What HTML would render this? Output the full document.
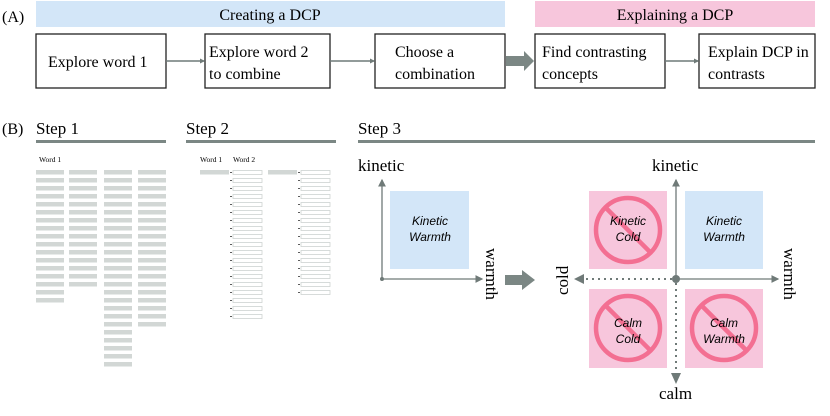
<!DOCTYPE html>
<html><head><meta charset="utf-8"><style>
body{margin:0;background:#fff;}
svg text{font-family:"Liberation Serif",serif;}
svg text.s{font-family:"Liberation Sans",sans-serif;font-style:italic;font-size:12px;}
</style></head><body>
<svg width="830" height="411" viewBox="0 0 830 411" xmlns="http://www.w3.org/2000/svg">
<defs>
<marker id="ah" markerWidth="6" markerHeight="6" refX="5" refY="3" orient="auto"><path d="M0,0 L6,3 L0,6 z" fill="#6f7a78"/></marker>
<marker id="ah2" markerWidth="5" markerHeight="5" refX="4" refY="2.5" orient="auto" markerUnits="userSpaceOnUse"><path d="M0,0 L5,2.5 L0,5 z" fill="#6f7a78"/></marker>
</defs>
<text x="2" y="22" font-size="16">(A)</text>
<rect x="36" y="1" width="469" height="26" fill="#d3e6f8"/>
<text x="270" y="20" font-size="16" text-anchor="middle">Creating a DCP</text>
<rect x="535" y="1" width="280" height="26" fill="#f7c6dc"/>
<text x="675" y="20" font-size="16" text-anchor="middle">Explaining a DCP</text>
<g fill="#fff" stroke="#222" stroke-width="1.3">
<rect x="36" y="34" width="130" height="54"/>
<rect x="205" y="34" width="125" height="54"/>
<rect x="375" y="34" width="130" height="54"/>
<rect x="535" y="34" width="130" height="54"/>
<rect x="699" y="34" width="116" height="54"/>
</g>
<g font-size="16">
<text x="48" y="67">Explore word 1</text>
<text x="209" y="57">Explore word 2</text><text x="209" y="79">to combine</text>
<text x="395" y="57">Choose a</text><text x="395" y="79">combination</text>
<text x="542" y="57">Find contrasting</text><text x="542" y="79">concepts</text>
<text x="708" y="57">Explain DCP in</text><text x="708" y="79">contrasts</text>
</g>
<g stroke="#6f7a78" stroke-width="1.5" marker-end="url(#ah2)">
<line x1="166" y1="61" x2="204" y2="61"/>
<line x1="330" y1="61" x2="374" y2="61"/>
<line x1="665" y1="61" x2="698" y2="61"/>
</g>
<path d="M506,56 L524,56 L524,51 L534,61 L524,71 L524,66 L506,66 z" fill="#7b8784"/>

<text x="2" y="134" font-size="16">(B)</text>
<text x="36" y="134" font-size="17">Step 1</text>
<text x="186" y="134" font-size="17">Step 2</text>
<text x="358" y="134" font-size="17">Step 3</text>
<rect x="36" y="140" width="130" height="3" fill="#7b8784"/>
<rect x="186" y="140" width="150" height="3" fill="#7b8784"/>
<rect x="358" y="140" width="457" height="3" fill="#7b8784"/>
<text x="39" y="162" font-size="7.5">Word 1</text>
<g fill="#d2d7d5" id="s1"></g>
<text x="200" y="162" font-size="7.5">Word 1</text>
<text x="233" y="162" font-size="7.5">Word 2</text>
<g id="s2"></g>

<text x="358" y="171" font-size="17">kinetic</text>
<g stroke="#6f7a78" stroke-width="1.3">
<line x1="382" y1="279" x2="382" y2="180" marker-end="url(#ah)"/>
<line x1="382" y1="279" x2="482" y2="279" marker-end="url(#ah)"/>
</g>
<circle cx="382" cy="279" r="2" fill="#6f7a78"/>
<rect x="390" y="191" width="79" height="78" fill="#d3e6f8"/>
<text class="s" x="430" y="225" text-anchor="middle">Kinetic</text><text class="s" x="430" y="241" text-anchor="middle">Warmth</text>
<text transform="translate(486,248) rotate(90)" font-size="17">warmth</text>
<path d="M505,275 L522,275 L522,270 L535,280 L522,290 L522,285 L505,285 z" fill="#7b8784"/>
<text transform="translate(568,295) rotate(-90)" font-size="17">cold</text>

<rect x="589" y="191" width="78" height="78" fill="#f7c6dc"/>
<rect x="685" y="191" width="78" height="78" fill="#d3e6f8"/>
<rect x="589" y="289" width="78" height="79" fill="#f7c6dc"/>
<rect x="685" y="289" width="78" height="79" fill="#f7c6dc"/>
<g fill="none" stroke="#f36f92" stroke-width="4.5">
<circle cx="628" cy="230" r="32"/><line x1="606" y1="208" x2="650" y2="252"/>
<circle cx="628" cy="328" r="32"/><line x1="606" y1="306" x2="650" y2="350"/>
<circle cx="724" cy="328" r="32"/><line x1="702" y1="306" x2="746" y2="350"/>
</g>
<g text-anchor="middle">
<text class="s" x="628" y="225">Kinetic</text><text class="s" x="628" y="241">Cold</text>
<text class="s" x="724" y="225">Kinetic</text><text class="s" x="724" y="241">Warmth</text>
<text class="s" x="628" y="327">Calm</text><text class="s" x="628" y="343">Cold</text>
<text class="s" x="724" y="327">Calm</text><text class="s" x="724" y="343">Warmth</text>
</g>
<g stroke="#6f7a78" stroke-width="1.3">
<line x1="676" y1="279" x2="676" y2="180" marker-end="url(#ah)"/>
<line x1="676" y1="279" x2="778" y2="279" marker-end="url(#ah)"/>
</g>
<g stroke="#6f7a78" stroke-width="2" stroke-dasharray="2,4">
<line x1="672" y1="279" x2="584" y2="279"/>
<line x1="676" y1="283" x2="676" y2="372"/>
</g>
<path d="M584,274 L574,279 L584,284 z" fill="#6f7a78"/>
<path d="M671,373 L676,384 L681,373 z" fill="#6f7a78"/>
<circle cx="676" cy="279" r="4" fill="#6f7a78"/>
<text x="652" y="171" font-size="17">kinetic</text>
<text transform="translate(784,248) rotate(90)" font-size="17">warmth</text>
<text x="659" y="399" font-size="17">calm</text>
</svg>
<script>
var ns="http://www.w3.org/2000/svg";
var s1=document.getElementById("s1");
[[36,17],[69,15],[104,25],[138,20]].forEach(function(c){for(var i=0;i<c[1];i++){var r=document.createElementNS(ns,"rect");r.setAttribute("x",c[0]);r.setAttribute("y",170+i*8);r.setAttribute("width",28);r.setAttribute("height",4.5);r.setAttribute("fill","#d2d7d5");s1.appendChild(r);}});
var s2=document.getElementById("s2");
function add(tag,a){var e=document.createElementNS(ns,tag);for(var k in a)e.setAttribute(k,a[k]);s2.appendChild(e);}
[[200,233,19],[268,301,16]].forEach(function(c){
add("rect",{x:c[0],y:170,width:29,height:4.5,fill:"#d2d7d5"});
for(var i=0;i<c[2];i++){add("rect",{x:c[1],y:170.5+i*8,width:29,height:4,fill:"#fff",stroke:"#cdd3d1","stroke-width":0.8});add("line",{x1:c[1]-3,y1:172.5+i*8,x2:c[1]-1,y2:172.5+i*8,stroke:"#333","stroke-width":0.8});}
});
</script>
</body></html>
